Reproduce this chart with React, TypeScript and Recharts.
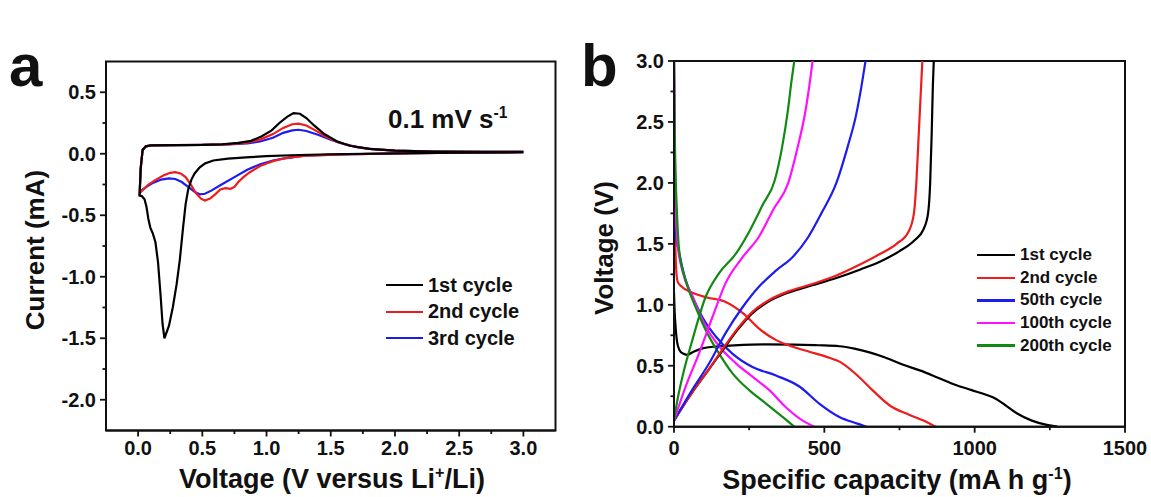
import { LineChart, Line, XAxis, YAxis, ReferenceArea, Legend } from "recharts";

const FONT = "'Liberation Sans', Arial, sans-serif";
const INK = "#111";

type Pt = [number, number];

// ---- panel a: cyclic voltammetry [voltage V, current mA] ----
const cvCycle1: Pt[] = [
  [3.0, 0.012], [2.5, 0.008], [2.0, 0.003], [1.5, -0.004], [1.25, -0.01], [1.0, -0.02],
  [0.87, -0.028], [0.7, -0.04], [0.585, -0.055], [0.52, -0.08], [0.48, -0.11], [0.44, -0.16],
  [0.415, -0.21], [0.39, -0.29], [0.37, -0.41], [0.35, -0.6], [0.325, -0.86], [0.3, -1.06],
  [0.27, -1.25], [0.24, -1.4], [0.205, -1.5], [0.19, -1.38], [0.175, -1.15], [0.155, -0.88],
  [0.135, -0.72], [0.115, -0.65], [0.095, -0.6], [0.08, -0.53], [0.065, -0.43], [0.05, -0.37],
  [0.03, -0.345], [0.012, -0.34],
  [0.02, -0.12], [0.035, 0.03], [0.06, 0.06], [0.1, 0.068], [0.3, 0.07], [0.5, 0.072],
  [0.65, 0.077], [0.78, 0.088], [0.88, 0.105], [0.96, 0.14], [1.04, 0.19], [1.1, 0.25],
  [1.16, 0.3], [1.21, 0.33], [1.26, 0.325], [1.31, 0.29], [1.37, 0.23], [1.45, 0.16],
  [1.55, 0.1], [1.65, 0.065], [1.8, 0.04], [2.0, 0.025], [2.3, 0.018], [2.7, 0.015], [3.0, 0.015],
];
const cvCycle2: Pt[] = [
  [3.0, 0.012], [2.5, 0.008], [2.0, 0.002], [1.6, -0.005], [1.3, -0.015], [1.15, -0.035],
  [1.05, -0.06], [1.0, -0.08], [0.95, -0.1], [0.87, -0.15], [0.82, -0.19], [0.78, -0.23],
  [0.75, -0.27], [0.72, -0.285], [0.68, -0.28], [0.64, -0.29], [0.6, -0.33], [0.56, -0.365],
  [0.52, -0.38], [0.49, -0.365], [0.45, -0.32], [0.41, -0.25], [0.37, -0.19], [0.33, -0.16],
  [0.29, -0.15], [0.25, -0.155], [0.2, -0.175], [0.14, -0.21], [0.08, -0.25], [0.04, -0.29],
  [0.012, -0.32],
  [0.02, -0.12], [0.035, 0.03], [0.06, 0.06], [0.1, 0.068], [0.3, 0.07], [0.5, 0.072],
  [0.7, 0.077], [0.85, 0.09], [0.95, 0.115], [1.05, 0.16], [1.13, 0.21], [1.2, 0.24],
  [1.25, 0.245], [1.31, 0.23], [1.38, 0.19], [1.46, 0.14], [1.55, 0.095], [1.65, 0.065],
  [1.8, 0.04], [2.0, 0.025], [2.3, 0.018], [2.7, 0.015], [3.0, 0.015],
];
const cvCycle3: Pt[] = [
  [3.0, 0.012], [2.5, 0.008], [2.0, 0.002], [1.6, -0.005], [1.3, -0.015], [1.15, -0.035],
  [1.05, -0.055], [0.95, -0.085], [0.85, -0.13], [0.75, -0.19], [0.65, -0.25], [0.57, -0.3],
  [0.52, -0.325], [0.48, -0.33], [0.44, -0.31], [0.39, -0.27], [0.34, -0.23], [0.29, -0.205],
  [0.24, -0.2], [0.18, -0.21], [0.12, -0.235], [0.07, -0.265], [0.03, -0.295], [0.012, -0.315],
  [0.02, -0.12], [0.035, 0.03], [0.06, 0.06], [0.1, 0.068], [0.3, 0.07], [0.5, 0.072],
  [0.7, 0.076], [0.85, 0.085], [0.95, 0.1], [1.05, 0.13], [1.13, 0.17], [1.2, 0.19],
  [1.25, 0.195], [1.31, 0.185], [1.4, 0.155], [1.5, 0.115], [1.6, 0.08], [1.72, 0.05],
  [1.85, 0.035], [2.0, 0.025], [2.3, 0.018], [2.7, 0.015], [3.0, 0.015],
];
const cvNames = ["1st cycle", "2nd cycle", "3rd cycle"];
const cvColors = ["#000000", "#ee1c1c", "#1c1cee"];
const cvXMajor = [0, 0.5, 1.0, 1.5, 2.0, 2.5, 3.0];
const cvXMinor = [0.25, 0.75, 1.25, 1.75, 2.25, 2.75];
const cvYMajor = [-2.0, -1.5, -1.0, -0.5, 0, 0.5];
const cvYMinor = [-1.75, -1.25, -0.75, -0.25, 0.25];

// ---- panel b: charge / discharge [capacity mA h g-1, voltage V] ----
const dis1: Pt[] = [
  [0, 1.1], [2, 0.95], [5, 0.83], [10, 0.7], [18, 0.63], [30, 0.6], [44, 0.59], [65, 0.615],
  [95, 0.643], [140, 0.658], [200, 0.667], [300, 0.675], [400, 0.674], [480, 0.668], [550, 0.66],
  [600, 0.64], [650, 0.61], [700, 0.57], [760, 0.51], [820, 0.46], [880, 0.4], [940, 0.34],
  [990, 0.3], [1040, 0.26], [1070, 0.23], [1100, 0.18], [1140, 0.11], [1190, 0.05],
  [1240, 0.015], [1275, 0],
];
const chg1: Pt[] = [
  [0, 0.05], [20, 0.13], [60, 0.28], [110, 0.45], [160, 0.62], [210, 0.79], [260, 0.93],
  [310, 1.02], [380, 1.1], [460, 1.16], [540, 1.22], [620, 1.29], [690, 1.36], [750, 1.44],
  [800, 1.53], [830, 1.62], [845, 1.75], [852, 2.0], [857, 2.4], [861, 2.8], [864, 3.0],
];
const dis2: Pt[] = [
  [0, 3.0], [1, 2.4], [2, 1.9], [4, 1.55], [7, 1.3], [12, 1.19], [25, 1.15], [60, 1.1],
  [110, 1.06], [170, 1.025], [230, 0.93], [285, 0.8], [340, 0.71], [395, 0.656], [450, 0.615],
  [505, 0.575], [560, 0.52], [610, 0.42], [660, 0.3], [720, 0.17], [780, 0.1], [830, 0.05], [870, 0],
];
const chg2: Pt[] = [
  [0, 0.05], [20, 0.13], [60, 0.28], [110, 0.45], [160, 0.63], [210, 0.8], [260, 0.94],
  [310, 1.03], [380, 1.11], [460, 1.17], [540, 1.24], [610, 1.32], [680, 1.41], [740, 1.5],
  [780, 1.6], [798, 1.75], [806, 2.0], [814, 2.4], [821, 2.75], [826, 3.0],
];
const dis50: Pt[] = [
  [0, 3.0], [2, 2.3], [4, 1.85], [8, 1.55], [17, 1.43], [39, 1.2], [61, 1.07], [94, 0.9],
  [139, 0.74], [194, 0.6], [261, 0.49], [339, 0.42], [417, 0.33], [483, 0.19], [550, 0.08],
  [610, 0.025], [640, 0],
];
const chg50: Pt[] = [
  [0, 0.05], [60, 0.3], [117, 0.52], [172, 0.77], [228, 0.98], [283, 1.15], [339, 1.28],
  [394, 1.39], [445, 1.55], [490, 1.75], [540, 2.0], [578, 2.3], [605, 2.55], [624, 2.8], [637, 3.0],
];
const dis100: Pt[] = [
  [0, 3.0], [2, 2.4], [5, 1.85], [12, 1.5], [28, 1.28], [61, 1.07], [106, 0.82], [150, 0.66],
  [206, 0.52], [261, 0.41], [317, 0.3], [372, 0.16], [428, 0.05], [467, 0],
];
const chg100: Pt[] = [
  [0, 0.05], [39, 0.33], [83, 0.6], [128, 0.9], [172, 1.18], [228, 1.39], [283, 1.56],
  [330, 1.78], [380, 2.0], [412, 2.3], [438, 2.6], [453, 2.85], [461, 3.0],
];
const dis200: Pt[] = [
  [0, 3.0], [2, 2.5], [5, 2.1], [10, 1.75], [17, 1.45], [39, 1.2], [72, 0.98], [106, 0.79],
  [150, 0.6], [194, 0.44], [250, 0.3], [306, 0.19], [361, 0.08], [400, 0],
];
const chg200: Pt[] = [
  [0, 0.05], [10, 0.2], [28, 0.41], [61, 0.71], [106, 1.07], [150, 1.26], [206, 1.42],
  [250, 1.6], [295, 1.82], [335, 2.02], [360, 2.3], [378, 2.58], [391, 2.84], [400, 3.0],
];
const gcdNames = ["1st cycle", "2nd cycle", "50th cycle", "100th cycle", "200th cycle"];
const gcdColors = ["#000000", "#ee1c1c", "#1c1cee", "#ff10ff", "#128a12"];
const gcdDischarge = [dis1, dis2, dis50, dis100, dis200];
const gcdCharge = [chg1, chg2, chg50, chg100, chg200];
const gcdXMajor = [0, 500, 1000, 1500];
const gcdXMinor = [250, 750, 1250];
const gcdYMajor = [0, 0.5, 1.0, 1.5, 2.0, 2.5, 3.0];
const gcdYMinor = [0.25, 0.75, 1.25, 1.75, 2.25, 2.75];

const toPts = (p: Pt[]) => p.map(([x, y]) => ({ x, y }));

const isMajor = (v: number, majors: number[]) => majors.some((m) => Math.abs(m - v) < 1e-9);

const xTick = (majors: number[], fmt: (v: number) => string, dy: number) => (props: any) => {
  const { x, y, payload } = props;
  const major = isMajor(payload.value, majors);
  return (
    <g>
      <line x1={x} x2={x} y1={y} y2={y + (major ? 6 : 3.5)} stroke={INK} strokeWidth={1.8} />
      {major && (
        <text x={x} y={y + dy} textAnchor="middle" fill={INK} fontSize={20} fontWeight={700} fontFamily={FONT}>
          {fmt(payload.value)}
        </text>
      )}
    </g>
  );
};

const yTick = (majors: number[], fmt: (v: number) => string) => (props: any) => {
  const { x, y, payload } = props;
  const major = isMajor(payload.value, majors);
  return (
    <g>
      <line x1={x} x2={x - (major ? 6 : 3.5)} y1={y} y2={y} stroke={INK} strokeWidth={1.8} />
      {major && (
        <text x={x - 10} y={y} dy="0.36em" textAnchor="end" fill={INK} fontSize={20} fontWeight={700} fontFamily={FONT}>
          {fmt(payload.value)}
        </text>
      )}
    </g>
  );
};

const legendBox = (names: string[], colors: string[], rowH: number, lineW: number, fs: number) => () => (
  <div style={{ fontFamily: FONT, fontWeight: 700, fontSize: fs, color: INK }}>
    {names.map((n, i) => (
      <div key={n} style={{ display: "flex", alignItems: "center", height: rowH, whiteSpace: "nowrap" }}>
        <span style={{ display: "inline-block", width: lineW, height: 2.4, background: colors[i], marginRight: 5 }} />
        {n}
      </div>
    ))}
  </div>
);

const textStyle = { position: "absolute" as const, fontFamily: FONT, fontWeight: 700, color: INK, whiteSpace: "nowrap" as const };
const sup = { fontSize: "0.6em", verticalAlign: "super", lineHeight: 0 };

const App = () => {
  const fmt1 = (v: number) => v.toFixed(1);
  const fmt0 = (v: number) => String(v);
  return (
    <div style={{ position: "fixed", left: 0, top: 0, width: 1151, height: 497, background: "#fff", overflow: "hidden" }}>
      <div style={{ position: "absolute", left: 0, top: 0 }}>
        <LineChart width={580} height={497} margin={{ top: 61.5, right: 24.5, bottom: 16.5, left: 46 }}>
          <XAxis
            type="number"
            dataKey="x"
            domain={[-0.25, 3.25]}
            ticks={[...cvXMajor, ...cvXMinor]}
            interval={0}
            allowDataOverflow
            height={50}
            tickSize={0}
            tickMargin={0}
            tickLine={false}
            axisLine={{ stroke: INK, strokeWidth: 2 }}
            tick={xTick(cvXMajor, fmt1, 24.5)}
          />
          <YAxis
            type="number"
            dataKey="y"
            domain={[-2.25, 0.75]}
            ticks={[...cvYMajor, ...cvYMinor]}
            interval={0}
            allowDataOverflow
            width={60}
            tickSize={0}
            tickMargin={0}
            tickLine={false}
            axisLine={{ stroke: INK, strokeWidth: 2 }}
            tick={yTick(cvYMajor, fmt1)}
          />
          <ReferenceArea x1={-0.25} x2={3.25} y1={-2.25} y2={0.75} fill="none" stroke={INK} strokeWidth={2} ifOverflow="visible" />
          {[cvCycle3, cvCycle2, cvCycle1].map((d, k) => {
            const i = 2 - k;
            return (
              <Line
                key={cvNames[i]}
                data={toPts(d)}
                dataKey="y"
                name={cvNames[i]}
                type="linear"
                stroke={cvColors[i]}
                strokeWidth={2.2}
                dot={false}
                isAnimationActive={false}
              />
            );
          })}
          <Legend
            layout="vertical"
            align="center"
            verticalAlign="middle"
            wrapperStyle={{ left: 386, top: 272, width: "auto", height: "auto" }}
            content={legendBox(cvNames, cvColors, 26.5, 37, 20)}
          />
        </LineChart>
      </div>

      <div style={{ position: "absolute", left: 580, top: 0 }}>
        <LineChart width={571} height={497} margin={{ top: 61, right: 26, bottom: 20.3, left: 34 }}>
          <XAxis
            type="number"
            dataKey="x"
            domain={[0, 1500]}
            ticks={[...gcdXMajor, ...gcdXMinor]}
            interval={0}
            allowDataOverflow
            height={50}
            tickSize={0}
            tickMargin={0}
            tickLine={false}
            axisLine={{ stroke: INK, strokeWidth: 2 }}
            tick={xTick(gcdXMajor, fmt0, 28)}
          />
          <YAxis
            type="number"
            dataKey="y"
            domain={[0, 3]}
            ticks={[...gcdYMajor, ...gcdYMinor]}
            interval={0}
            allowDataOverflow
            width={60}
            tickSize={0}
            tickMargin={0}
            tickLine={false}
            axisLine={{ stroke: INK, strokeWidth: 2 }}
            tick={yTick(gcdYMajor, fmt1)}
          />
          <ReferenceArea x1={0} x2={1500} y1={0} y2={3} fill="none" stroke={INK} strokeWidth={2} ifOverflow="visible" />
          {gcdNames.map((n, i) => (
            <Line
              key={n + "-d"}
              data={toPts(gcdDischarge[i])}
              dataKey="y"
              name={n}
              type="monotone"
              stroke={gcdColors[i]}
              strokeWidth={2.2}
              dot={false}
              isAnimationActive={false}
            />
          ))}
          {gcdNames.map((n, i) => (
            <Line
              key={n + "-c"}
              data={toPts(gcdCharge[i])}
              dataKey="y"
              name={n + " charge"}
              legendType="none"
              type="monotone"
              stroke={gcdColors[i]}
              strokeWidth={2.2}
              dot={false}
              isAnimationActive={false}
            />
          ))}
          <Legend
            layout="vertical"
            align="center"
            verticalAlign="middle"
            wrapperStyle={{ left: 397, top: 244, width: "auto", height: "auto" }}
            content={legendBox(gcdNames, gcdColors, 22.6, 38, 17)}
          />
        </LineChart>
      </div>

      {/* panel letters and annotations */}
      <div style={{ ...textStyle, left: 9, top: 66, fontSize: 60, lineHeight: 0 }}>a</div>
      <div style={{ ...textStyle, left: 581, top: 66, fontSize: 60, lineHeight: 0 }}>b</div>
      <div style={{ ...textStyle, left: 388, top: 113, fontSize: 26, lineHeight: 0 }}>
        0.1 mV s<span style={sup}>-1</span>
      </div>

      {/* axis titles */}
      <div style={{ ...textStyle, left: 35, top: 250, fontSize: 26, transform: "translate(-50%, -50%) rotate(-90deg)" }}>
        Current (mA)
      </div>
      <div style={{ ...textStyle, left: 332, top: 479, fontSize: 27, transform: "translate(-50%, -50%)" }}>
        Voltage (V versus Li<span style={sup}>+</span>/Li)
      </div>
      <div style={{ ...textStyle, left: 604, top: 248, fontSize: 26, transform: "translate(-50%, -50%) rotate(-90deg)" }}>
        Voltage (V)
      </div>
      <div style={{ ...textStyle, left: 897, top: 480, fontSize: 27, transform: "translate(-50%, -50%)" }}>
        Specific capacity (mA h g<span style={sup}>-1</span>)
      </div>
    </div>
  );
};

export default App;
